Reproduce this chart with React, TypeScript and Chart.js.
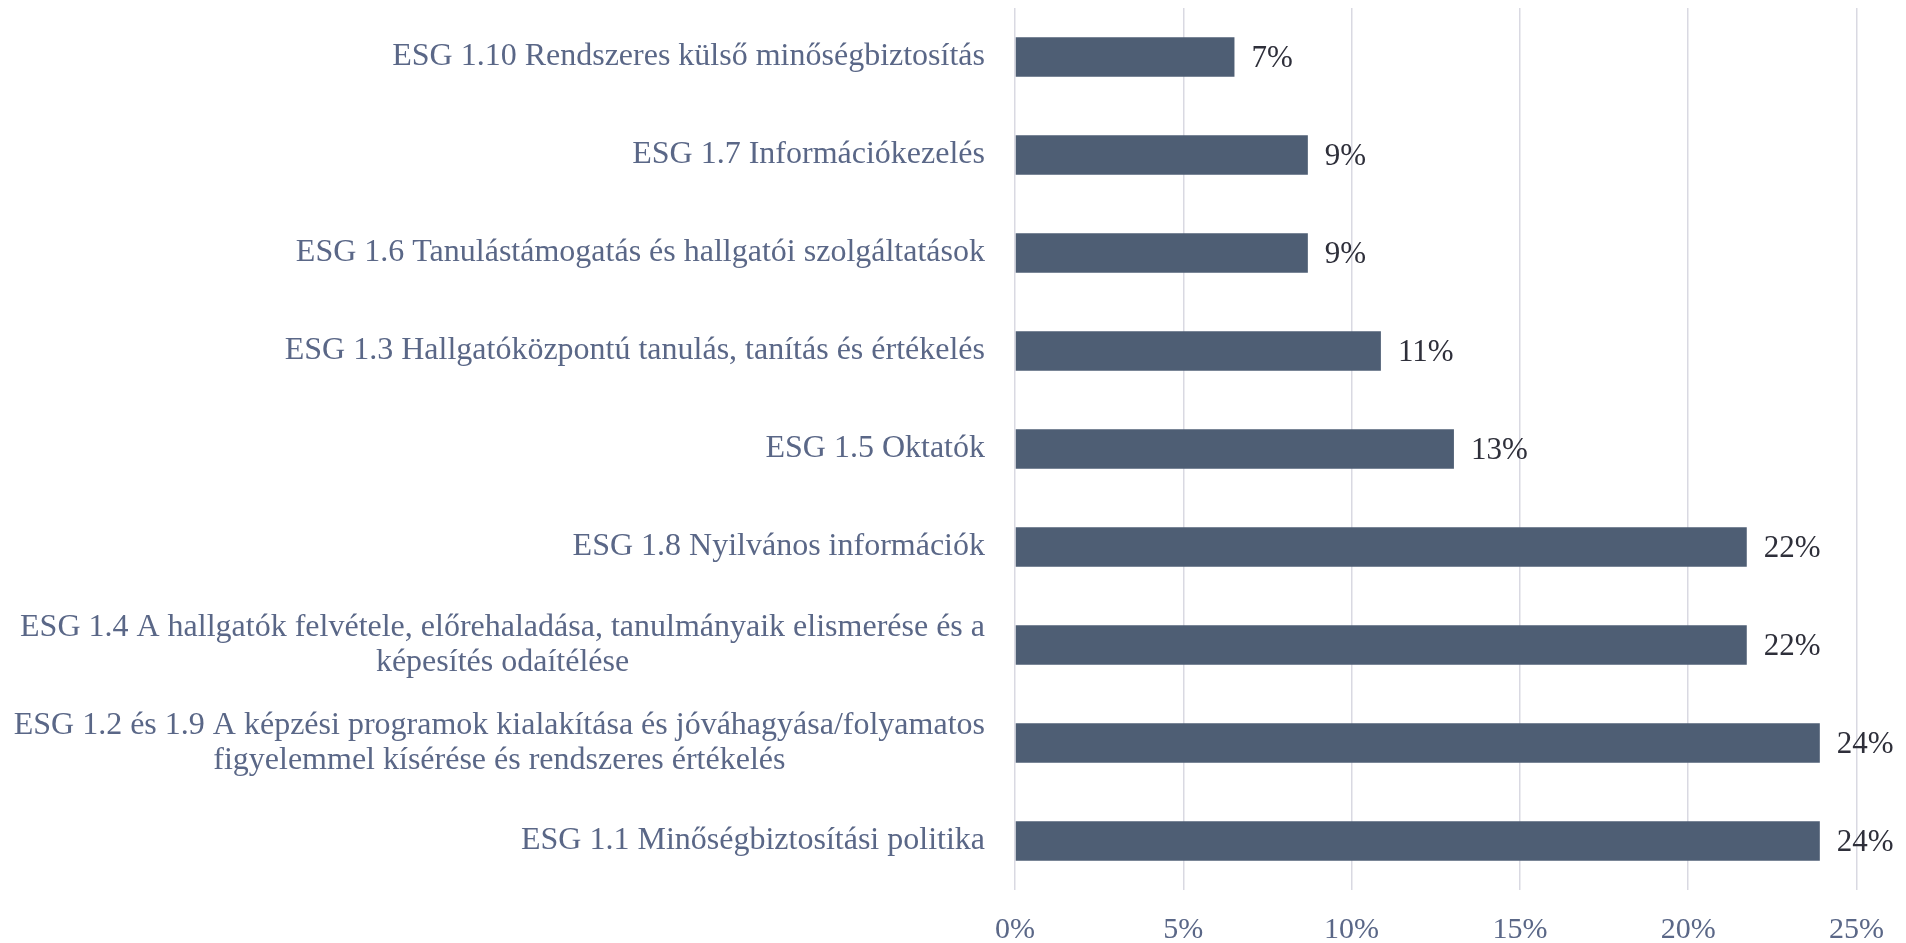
import React, { useEffect, useRef } from "react";
import { Chart, registerables } from "chart.js";

Chart.register(...registerables);

const categories: string[][] = [
  ["ESG 1.10 Rendszeres külső minőségbiztosítás"],
  ["ESG 1.7 Információkezelés"],
  ["ESG 1.6 Tanulástámogatás és hallgatói szolgáltatások"],
  ["ESG 1.3 Hallgatóközpontú tanulás, tanítás és értékelés"],
  ["ESG 1.5 Oktatók"],
  ["ESG 1.8 Nyilvános információk"],
  ["ESG 1.4 A hallgatók felvétele, előrehaladása, tanulmányaik elismerése és a", "képesítés odaítélése"],
  ["ESG 1.2 és 1.9 A képzési programok kialakítása és jóváhagyása/folyamatos", "figyelemmel kísérése és rendszeres értékelés"],
  ["ESG 1.1 Minőségbiztosítási politika"],
];

const values: number[] = [6.52, 8.7, 8.7, 10.87, 13.04, 21.74, 21.74, 23.91, 23.91];

const tickValues: number[] = [0, 5, 10, 15, 20, 25];

const FONT = "'Liberation Serif', 'Times New Roman', serif";
const CAT_COLOR = "#5A6787";
const LABEL_COLOR = "#2E2F3A";

const categoryLabelPlugin = {
  id: "categoryLabels",
  afterDraw(chart: any) {
    const ctx = chart.ctx;
    const y = chart.scales.y;
    const right = chart.chartArea.left - 30;
    ctx.save();
    ctx.font = `32px ${FONT}`;
    ctx.fillStyle = CAT_COLOR;
    ctx.textBaseline = "middle";
    ctx.textAlign = "center";
    const lh = 35;
    categories.forEach((lines, i) => {
      const cy = y.getPixelForValue(i);
      const w = Math.max(...lines.map((l) => ctx.measureText(l).width));
      const cx = right - w / 2;
      const start = cy - ((lines.length - 1) * lh) / 2;
      lines.forEach((l, j) => ctx.fillText(l, cx, start + j * lh));
    });
    ctx.restore();
  },
};

const valueLabelPlugin = {
  id: "valueLabels",
  afterDatasetsDraw(chart: any) {
    const ctx = chart.ctx;
    const meta = chart.getDatasetMeta(0);
    ctx.save();
    ctx.font = `31px ${FONT}`;
    ctx.fillStyle = LABEL_COLOR;
    ctx.textBaseline = "middle";
    ctx.textAlign = "left";
    meta.data.forEach((bar: any, i: number) => {
      ctx.fillText(`${Math.round(values[i])}%`, bar.x + 17, bar.y + 2);
    });
    ctx.restore();
  },
};

export default function App() {
  const ref = useRef<HTMLCanvasElement | null>(null);

  useEffect(() => {
    document.body.style.margin = "0";
    if (!ref.current) return;
    const chart = new Chart(ref.current, {
      type: "bar",
      data: {
        labels: categories.map((c) => c.join(" ")),
        datasets: [
          {
            data: values,
            backgroundColor: "#4E5E74",
            barPercentage: 0.9,
            categoryPercentage: 0.45,
          },
        ],
      },
      options: {
        indexAxis: "y",
        animation: false,
        responsive: false,
        maintainAspectRatio: false,
        layout: { padding: { top: 8, left: 0, right: 37, bottom: 0 } },
        plugins: {
          legend: { display: false },
          tooltip: { enabled: false },
        },
        scales: {
          x: {
            min: 0,
            max: 25,
            afterBuildTicks: (scale: any) => {
              scale.ticks = tickValues.map((v) => ({ value: v }));
            },
            afterFit: (scale: any) => {
              scale.height = 53;
            },
            grid: { color: "#D9D9E2", lineWidth: 1.5, drawTicks: false },
            border: { display: false },
            ticks: {
              padding: 22,
              color: CAT_COLOR,
              font: { family: FONT, size: 30 },
              callback: (v: any) => `${v}%`,
            },
          },
          y: {
            afterFit: (scale: any) => {
              scale.width = 1015;
            },
            grid: { display: false },
            border: { display: false },
            ticks: { display: false },
          },
        },
      },
      plugins: [categoryLabelPlugin, valueLabelPlugin],
    });
    return () => chart.destroy();
  }, []);

  return (
    <div style={{ width: 1906, height: 943 }}>
      <canvas ref={ref} width={1906} height={943} style={{ display: "block" }} />
    </div>
  );
}
